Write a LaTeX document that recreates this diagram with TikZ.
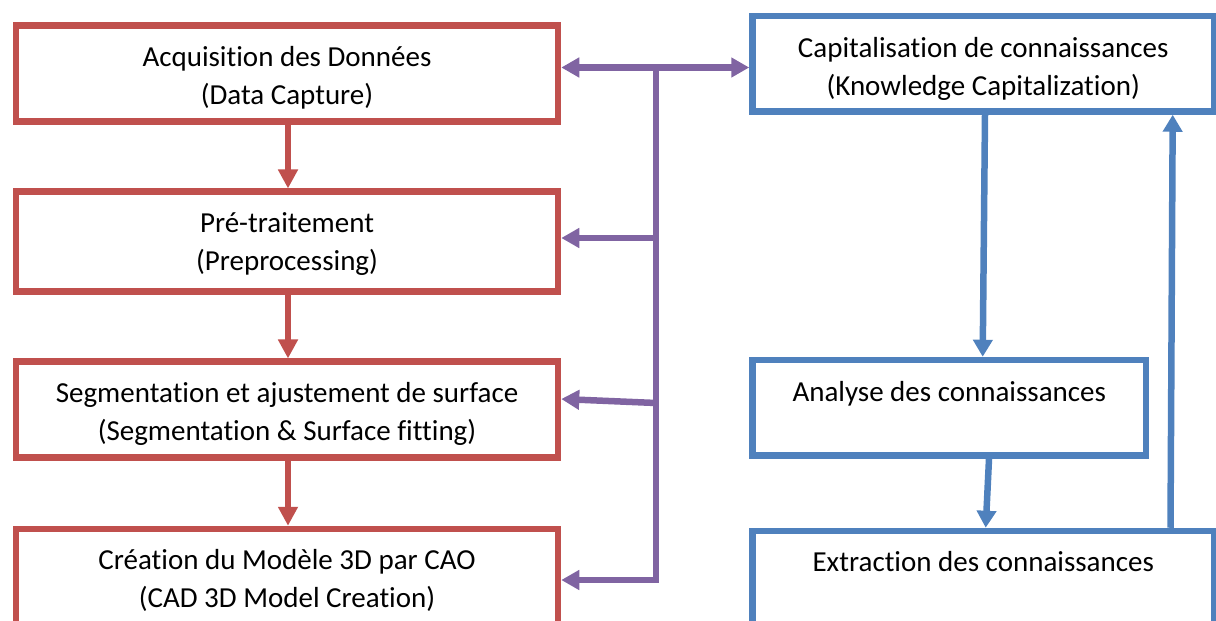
\documentclass[tikz,border=0pt]{standalone}
\usepackage{fontspec}
\setmainfont{Carlito}[Ligatures=NoCommon]
\usetikzlibrary{arrows.meta,calc}
\definecolor{ored}{HTML}{C0504D}
\definecolor{oblue}{HTML}{4F81BD}
\definecolor{opurple}{HTML}{8064A2}
\begin{document}
\begin{tikzpicture}[x=1pt,y=-1pt,
  box/.style={rectangle,line width=6.5pt,anchor=north west,inner sep=0pt,fill=white},
  rbox/.style={box,draw=ored},
  bbox/.style={box,draw=oblue},
  txt/.style={font=\fontsize{29}{38}\selectfont,anchor=base,inner sep=0pt,text=black},
  tipr/.style={-{Triangle[length=19pt,width=19pt]}},
  rarr/.style={draw=ored,line width=6.8pt,tipr},
  barr/.style={draw=oblue,line width=6.5pt,-{Triangle[length=17pt,width=19pt]}},
  pline/.style={draw=opurple,line width=6.5pt},
  parr/.style={pline,-{Triangle[length=18pt,width=19pt]}},
  pdarr/.style={pline,{Triangle[length=18pt,width=19pt]}-{Triangle[length=18pt,width=19pt]}}
]
\useasboundingbox (0,0) rectangle (1216,621);
\clip (0,0) rectangle (1216,621);

% red boxes (anchor at outer corner)
\node[rbox,minimum width=542pt,minimum height=96pt] (r1) at (12.75,22.45) {};
\node[rbox,minimum width=542pt,minimum height=100pt] (r2) at (12.75,188.45) {};
\node[rbox,minimum width=542pt,minimum height=96pt] (r3) at (12.75,358.45) {};
\node[rbox,minimum width=542pt,minimum height=160pt] (r4) at (12.75,525.75) {};

% blue boxes
\node[bbox,minimum width=461.5pt,minimum height=95.5pt] (cap) at (749.25,12.75) {};
\node[bbox,minimum width=393.5pt,minimum height=95.7pt] (ana) at (749.25,356.75) {};
\node[bbox,minimum width=461.5pt,minimum height=160pt] (ext) at (749.25,527.75) {};

% texts
\node[txt] (t1a) at (287,66.5) {Acquisition des Données};
\node[txt] (t1b) at (287,104.5) {(Data Capture)};
\node[txt] (t2a) at (287,232.5) {Pré-traitement};
\node[txt] (t2b) at (287,270.5) {(Preprocessing)};
\node[txt] (t3a) at (287,402.5) {Segmentation et ajustement de surface};
\node[txt] (t3b) at (287,440.5) {(Segmentation \& Surface fitting)};
\node[txt] (t4a) at (287,569.5) {Création du Modèle 3D par CAO};
\node[txt] (t4b) at (287,607.5) {(CAD 3D Model Creation)};
\node[txt] (tca) at (983.25,57) {Capitalisation de connaissances};
\node[txt] (tcb) at (983.25,95) {(Knowledge Capitalization)};
\node[txt] (tan) at (949.25,401) {Analyse des connaissances};
\node[txt] (tex) at (983.25,571.5) {Extraction des connaissances};

% helper coordinates
\coordinate (rx) at (288,0);
\coordinate (ptop) at (656,64.25);
\coordinate (pbot) at (656,583.25);
\coordinate (pj1) at (656,67.5);
\coordinate (pj2) at (656,238);
\coordinate (pj3) at (656,403);
\coordinate (pt3) at (0,399);
\coordinate (pj4) at (656,580);
\coordinate (c1) at (985,0);
\coordinate (c2) at (982.7,0);
\coordinate (c3) at (989,0);
\coordinate (c4) at (985.7,0);
\coordinate (c5) at (1170.5,0);
\coordinate (c6) at (1172.7,0);

% red flow
\draw[rarr] (r1.south -| rx) -- (r2.north -| rx);
\draw[rarr] (r2.south -| rx) -- (r3.north -| rx);
\draw[rarr] (r3.south -| rx) -- (r4.north -| rx);

% purple connectors
\draw[pline] (ptop) -- (pbot);
\draw[pdarr] (r1.east |- pj1) -- (cap.west |- pj1);
\draw[parr] (pj2) -- (r2.east |- pj2);
\draw[parr] (pj3) -- (r3.east |- pt3);
\draw[parr] (pj4) -- (r4.east |- pj4);

% blue connectors
\draw[barr] (cap.south -| c1) -- (ana.north -| c2);
\draw[barr] (ana.south -| c3) -- (ext.north -| c4);
\draw[barr] (ext.north -| c5) -- (cap.south -| c6);
\end{tikzpicture}
\end{document}
